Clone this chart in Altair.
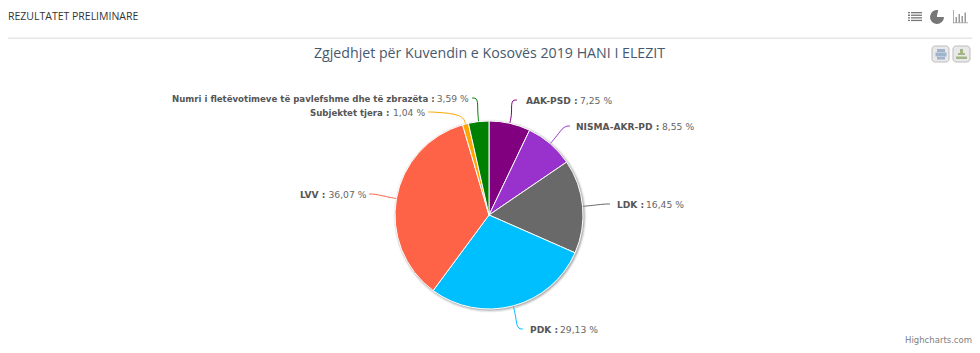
import math
import altair as alt
import pandas as pd

names = ["AAK-PSD", "NISMA-AKR-PD", "LDK", "PDK", "LVV", "Subjektet tjera",
         "Numri i fletëvotimeve të pavlefshme dhe të zbrazëta"]
values = [7.25, 8.55, 16.45, 29.13, 36.07, 1.04, 3.59]
value_labels = ["7,25 %", "8,55 %", "16,45 %", "29,13 %", "36,07 %", "1,04 %", "3,59 %"]
colors = ["#800080", "#9932CC", "#696969", "#00BFFF", "#FF6347", "#FFA500", "#008000"]
title = "Zgjedhjet për Kuvendin e Kosovës 2019 HANI I ELEZIT"
header = "REZULTATET PRELIMINARE"
credit = "Highcharts.com"

W, H = 964, 337
CX, CY, R = 489, 215, 94
# label placement as the original layout left it (page px)
label_end = [(517, 100), (570, 126), (610, 204), (523, 329), (369, 194), (428, 112), (472, 98)]
name_x = [526, 576, 617, 530, 300, 310, 172]
value_x = [580, 662, 646, 560, 328.5, 393, 436.7]
name_fs = [9.1, 9.1, 9.1, 9.1, 9.1, 8.6, 8.6]
FONT = "DejaVu Sans"

X = alt.X("x:Q", scale=alt.Scale(domain=[8, 8 + W], range=[0, W]), axis=None)
Y = alt.Y("y:Q", scale=alt.Scale(domain=[8, 8 + H], range=[0, H]), axis=None)
X2 = alt.X2("x2:Q")
Y2 = alt.Y2("y2:Q")

total = sum(values)
pie = pd.DataFrame({"name": names, "v": values, "c": colors, "i": range(len(names))})

pie_arc = alt.Chart(pie).mark_arc(radius=R, stroke="#ffffff", strokeWidth=1).encode(
    theta=alt.Theta("v:Q", stack=True), order=alt.Order("i:Q"),
    color=alt.Color("c:N", scale=None),
    x=alt.value(CX - 8), y=alt.value(CY - 8))

shadows = [alt.Chart(pd.DataFrame({"v": [1]})).mark_arc(radius=R + r, fill="#000000", opacity=o)
           .encode(theta=alt.Theta("v:Q"), x=alt.value(CX - 8 + 1), y=alt.value(CY - 8 + 1))
           for r, o in [(2.5, .05), (1.5, .1), (.5, .15)]]

rows, names_rows, vals_rows = [], [], []
cum = 0
for k, v in enumerate(values):
    mid = (cum + v / 2) / total * 2 * math.pi
    cum += v
    s, c = math.sin(mid), math.cos(mid)
    ex, ey = label_end[k]
    p0 = (CX + R * s, CY - R * c)
    p1 = (CX + (R + 10) * s, CY - (R + 10) * c)
    side = 1 if s > 0 else -1
    p2 = (ex - side * 6, ey)
    for j, (x, y) in enumerate([p0, p0, p1, p2, (ex, ey), (ex, ey)]):
        rows.append({"x": x, "y": y, "k": k, "j": j, "c": colors[k]})
    names_rows.append({"x": name_x[k], "y": ey + .5, "t": names[k] + " :", "fs": name_fs[k]})
    vals_rows.append({"x": value_x[k], "y": ey + .5, "t": value_labels[k]})

connectors = alt.Chart(pd.DataFrame(rows)).mark_line(interpolate="basis", strokeWidth=1).encode(
    x=X, y=Y, detail="k:N", order="j:Q", color=alt.Color("c:N", scale=None))

name_text = alt.Chart(pd.DataFrame(names_rows)).mark_text(
    align="left", baseline="middle", font=FONT, fontWeight="bold", color="#555555").encode(
    x=X, y=Y, text="t:N", size=alt.Size("fs:Q", scale=None))
value_text = alt.Chart(pd.DataFrame(vals_rows)).mark_text(
    align="left", baseline="middle", font=FONT, fontSize=9.2, color="#666666").encode(
    x=X, y=Y, text="t:N")


def one_text(t, x, y, **kw):
    return alt.Chart(pd.DataFrame({"x": [x], "y": [y], "t": [t]})).mark_text(
        baseline="middle", **kw).encode(x=X, y=Y, text="t:N")


def rects(items, color, **kw):
    df = pd.DataFrame(items, columns=["x", "y", "x2", "y2"])
    return alt.Chart(df).mark_rect(color=color, **kw).encode(x=X, y=Y, x2=X2, y2=Y2)


hline = rects([(8, 37.5, 972, 39)], "#e6e6e6")

# toolbar icons
list_icon = rects([(a, yy, b, yy + 1.3) for yy in (12, 14.6, 17.2, 19.8) for a, b in ((908, 910), (911, 922))], "#777777")
pie_df = pd.DataFrame({"v": [78, 22], "c": ["#777777", "#ffffff"], "i": [0, 1]})
pie_icon = alt.Chart(pie_df).mark_arc(radius=7).encode(
    theta=alt.Theta("v:Q", stack=True, scale=alt.Scale(range=[1.57, 1.57 + 6.283])),
    order=alt.Order("i:Q"), color=alt.Color("c:N", scale=None),
    x=alt.value(937 - 8), y=alt.value(17 - 8))
bar_icon = rects([(953, 10, 953.8, 23), (953, 22.4, 968, 23.2), (955.5, 17, 957, 22.4), (958.5, 14, 960, 22.4),
                  (961.5, 16, 963, 22.4), (964.5, 12.5, 966, 22.4)], "#999999")

btn_df = pd.DataFrame([(932, 46, 949, 62), (953, 46, 970, 62)], columns=["x", "y", "x2", "y2"])
buttons = alt.Chart(btn_df).mark_rect(fill="#e9e9e9", stroke="#bdbdbd", cornerRadius=3).encode(x=X, y=Y, x2=X2, y2=Y2)
printer = rects([(937, 49, 945, 52), (935.5, 52.5, 946.5, 56.5), (937, 57, 945, 59.5)], "#9fb3cc")
download = rects([(960, 49, 963, 53), (958, 53, 965, 55), (956, 56.5, 967, 59)], "#a3b585")

layers = (
    [hline, list_icon, pie_icon, bar_icon, buttons, printer, download]
    + shadows
    + [connectors, pie_arc, name_text, value_text]
    + [one_text(title, 489.5, 53.5, align="center", font="Open Sans", fontSize=14.2, color="#46596e"),
       one_text(header, 8, 17, align="left", font="Open Sans", fontSize=10.5, color="#333333"),
       one_text(credit, 972, 340, align="right", font="DejaVu Sans", fontSize=8.5, color="#808080")]
)

chart = alt.layer(*layers).properties(
    width=W, height=H, padding=0, autosize=alt.AutoSizeParams(type="none")
).resolve_scale(theta="independent", color="independent").configure_view(stroke=None)

chart.save("out.html", embed_options={"renderer": "svg", "actions": False})
